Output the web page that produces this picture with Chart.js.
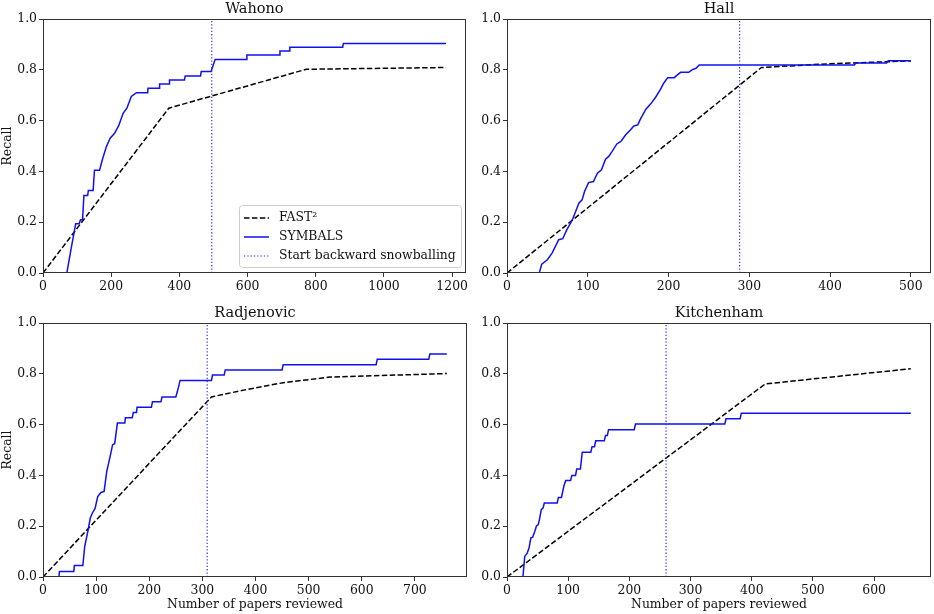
<!DOCTYPE html>
<html><head><meta charset="utf-8">
<script src="https://cdn.jsdelivr.net/npm/chart.js@4.4.1/dist/chart.umd.min.js"></script>
<style>
body{margin:0;background:#fff;width:934px;height:614px;overflow:hidden;position:relative}
canvas{position:absolute}
</style></head><body>
<canvas id="c0" width="470" height="300" style="left:0;top:0"></canvas>
<canvas id="c1" width="464" height="300" style="left:470px;top:0"></canvas>
<canvas id="c2" width="470" height="314" style="left:0;top:300px"></canvas>
<canvas id="c3" width="464" height="314" style="left:470px;top:300px"></canvas>
<script>
// ---------- DATA ----------
const panelTitles = ["Wahono", "Hall", "Radjenovic", "Kitchenham"];
const seriesLabels = ["FAST\u00B2", "SYMBALS", "Start backward snowballing"];
const yTicks = [0, 0.2, 0.4, 0.6, 0.8, 1.0];

// Wahono
const wahonoXTicks = [0, 200, 400, 600, 800, 1000, 1200];
const wahonoFastX = [0, 369, 772, 1182];
const wahonoFastY = [0, 0.649, 0.802, 0.809];
const wahonoSymX = [0,70,83,96,106,110,116,120,131,133,147,151,166,174,186,197,210,222,235,246,259,274,307,308,341,342,370,371,415,417,462,464,493,505,596,598,693,695,722,724,879,881,1182];
const wahonoSymY = [0,0,0.1,0.194,0.194,0.21,0.21,0.305,0.305,0.325,0.325,0.405,0.405,0.446,0.498,0.531,0.55,0.58,0.629,0.649,0.695,0.71,0.71,0.727,0.727,0.744,0.744,0.76,0.76,0.776,0.776,0.793,0.793,0.841,0.841,0.858,0.858,0.874,0.874,0.889,0.889,0.904,0.904];
const wahonoSnow = 495;

// Hall
const hallXTicks = [0, 100, 200, 300, 400, 500];
const hallFastX = [0, 315, 400, 500];
const hallFastY = [0, 0.809, 0.824, 0.835];
const hallSymX = [0,40,43,50,56,64,69,74,81,89,93,96,101,107,112,117,122,126,130,136,141,147,153,157,162,165,172,178,184,190,194,199,207,211,215,225,229,234,238,430,432,470,472,500];
const hallSymY = [0,0,0.035,0.052,0.079,0.131,0.135,0.17,0.21,0.275,0.288,0.321,0.356,0.36,0.393,0.406,0.448,0.459,0.478,0.508,0.518,0.544,0.564,0.579,0.583,0.605,0.645,0.666,0.692,0.723,0.747,0.769,0.769,0.78,0.79,0.79,0.8,0.806,0.819,0.819,0.827,0.827,0.836,0.836];
const hallSnow = 288;

// Radjenovic
const radjXTicks = [0, 100, 200, 300, 400, 500, 600, 700];
const radjFastX = [0, 317, 383, 452, 540, 760];
const radjFastY = [0, 0.709, 0.738, 0.765, 0.787, 0.801];
const radjSymX = [0,30,31,58,59,75,78.5,85,89,93,98,103,109,115,120,127,131,135,140,154,155,168,170,176,177,204,206,222,224,250,253,258,317,319,341,343,450,452,627,629,726,728,760];
const radjSymY = [0,0,0.022,0.022,0.045,0.045,0.12,0.186,0.232,0.252,0.27,0.317,0.333,0.337,0.416,0.481,0.521,0.525,0.606,0.606,0.627,0.627,0.648,0.648,0.668,0.668,0.69,0.69,0.709,0.709,0.731,0.774,0.774,0.795,0.795,0.815,0.815,0.836,0.836,0.857,0.857,0.878,0.878];
const radjSnow = 309;

// Kitchenham
const kitchXTicks = [0, 100, 200, 300, 400, 500, 600];
const kitchFastX = [0, 422, 660];
const kitchFastY = [0, 0.76, 0.82];
const kitchSymX = [0,26,29,33,36,39,42,45.5,48,51,53,56,59,61,82,84,89,93,96,104,106,112,114,120,123,137,139,143,145,159,161,164,166,208,210,356,358,381,383,660];
const kitchSymY = [0,0,0.081,0.094,0.114,0.154,0.157,0.18,0.2,0.206,0.226,0.265,0.272,0.291,0.291,0.313,0.313,0.358,0.38,0.38,0.4,0.4,0.425,0.425,0.491,0.491,0.513,0.513,0.536,0.536,0.557,0.557,0.58,0.58,0.602,0.602,0.623,0.623,0.645,0.645];
const kitchSnow = 260;

const xMaxes = [1240, 525, 798, 693];

// ---------- STYLE ----------
const FONT = '"DejaVu Serif", "Liberation Serif", serif';
const SPINE = '#333';
const TEXT = '#111';
const FS = 12.4;
Chart.defaults.font.family = FONT;
Chart.defaults.font.size = FS;
Chart.defaults.color = TEXT;

const zip = (xs, ys) => xs.map((x, i) => ({x, y: ys[i]}));

const framePlugin = {
  id: 'frame',
  afterDraw(chart, args, opts) {
    const {ctx, chartArea: a} = chart;
    ctx.save();
    ctx.strokeStyle = SPINE; ctx.lineWidth = 1; ctx.setLineDash([]);
    const l = Math.round(a.left) + 0.5, t = Math.round(a.top) + 0.5;
    const r = Math.round(a.right) - 0.5, b = Math.round(a.bottom) - 0.5;
    ctx.strokeRect(l, t, r - l, b - t);
    ctx.fillStyle = TEXT;
    ctx.font = '14.5px ' + FONT;
    ctx.textAlign = 'center'; ctx.textBaseline = 'alphabetic';
    ctx.fillText(opts.title, (a.left + a.right) / 2, a.top - 6);
    if (opts.legend) {
      const bx = 239.5, by = 205.5, bw = 222, bh = 62;
      ctx.fillStyle = 'rgba(255,255,255,0.8)';
      ctx.strokeStyle = '#cccccc';
      ctx.beginPath();
      ctx.roundRect(bx, by, bw, bh, 3);
      ctx.fill(); ctx.stroke();
      const rows = [218, 237, 256];
      chart.data.datasets.forEach((ds, i) => {
        const y = rows[i];
        ctx.strokeStyle = ds.borderColor;
        ctx.lineWidth = ds.borderWidth;
        ctx.setLineDash(ds.borderDash || []);
        ctx.beginPath(); ctx.moveTo(244, y); ctx.lineTo(269, y); ctx.stroke();
        ctx.setLineDash([]);
        ctx.fillStyle = TEXT;
        ctx.font = FS + 'px ' + FONT;
        ctx.textAlign = 'left'; ctx.textBaseline = 'middle';
        ctx.fillText(ds.label, 279, y);
      });
    }
    ctx.restore();
  }
};

function makeChart(id, idx, fx, fy, sx, sy, snow, xTicks, opt) {
  const datasets = [
    {label: seriesLabels[0], data: zip(fx, fy), borderColor: '#000000', borderWidth: 1.5, borderDash: [5.5, 2.4], order: 3},
    {label: seriesLabels[1], data: zip(sx, sy), borderColor: '#1010f0', borderWidth: 1.5, order: 2},
    {label: seriesLabels[2], data: [{x: snow, y: 0}, {x: snow, y: 1}], borderColor: '#3030ff', borderWidth: 1.2, borderDash: [1.3, 2], order: 1}
  ];
  datasets.forEach(d => { d.pointRadius = 0; d.fill = false; d.tension = 0; });
  return new Chart(document.getElementById(id), {
    type: 'line',
    data: {datasets},
    plugins: [framePlugin],
    options: {
      responsive: false, animation: false, devicePixelRatio: 1,
      layout: {padding: {top: opt.padTop, right: opt.padRight, left: 0, bottom: 0}},
      plugins: {legend: {display: false}, tooltip: {enabled: false}, frame: {title: panelTitles[idx], legend: opt.legend}},
      scales: {
        x: {
          type: 'linear', min: 0, max: xMaxes[idx],
          afterBuildTicks: s => { s.ticks = xTicks.map(v => ({value: v})); },
          afterFit: s => { s.height = opt.xH; },
          ticks: {padding: 2, maxRotation: 0, autoSkip: false, callback: v => String(v)},
          grid: {drawOnChartArea: false, drawTicks: true, tickLength: 4, color: SPINE},
          border: {display: false},
          title: {display: !!opt.xTitle, text: 'Number of papers reviewed', padding: {top: 0, bottom: 2}, font: {size: FS}}
        },
        y: {
          type: 'linear', min: 0, max: 1,
          afterBuildTicks: s => { s.ticks = yTicks.map(v => ({value: v})); },
          afterFit: s => { s.width = opt.yW; },
          ticks: {padding: 2, callback: v => Number(v).toFixed(1)},
          grid: {drawOnChartArea: false, drawTicks: true, tickLength: 4, color: SPINE},
          border: {display: false},
          title: {display: !!opt.yTitle, text: 'Recall', padding: {top: 0, bottom: 0}, font: {size: FS}}
        }
      }
    }
  });
}

makeChart('c0', 0, wahonoFastX, wahonoFastY, wahonoSymX, wahonoSymY, wahonoSnow, wahonoXTicks,
  {padTop: 19, padRight: 3, xH: 27, yW: 43, yTitle: true, xTitle: false, legend: true});
makeChart('c1', 1, hallFastX, hallFastY, hallSymX, hallSymY, hallSnow, hallXTicks,
  {padTop: 19, padRight: 3, xH: 27, yW: 37, yTitle: false, xTitle: false, legend: false});
makeChart('c2', 2, radjFastX, radjFastY, radjSymX, radjSymY, radjSnow, radjXTicks,
  {padTop: 23, padRight: 3, xH: 37, yW: 43, yTitle: true, xTitle: true, legend: false});
makeChart('c3', 3, kitchFastX, kitchFastY, kitchSymX, kitchSymY, kitchSnow, kitchXTicks,
  {padTop: 23, padRight: 3, xH: 37, yW: 37, yTitle: false, xTitle: true, legend: false});
</script>
</body></html>
